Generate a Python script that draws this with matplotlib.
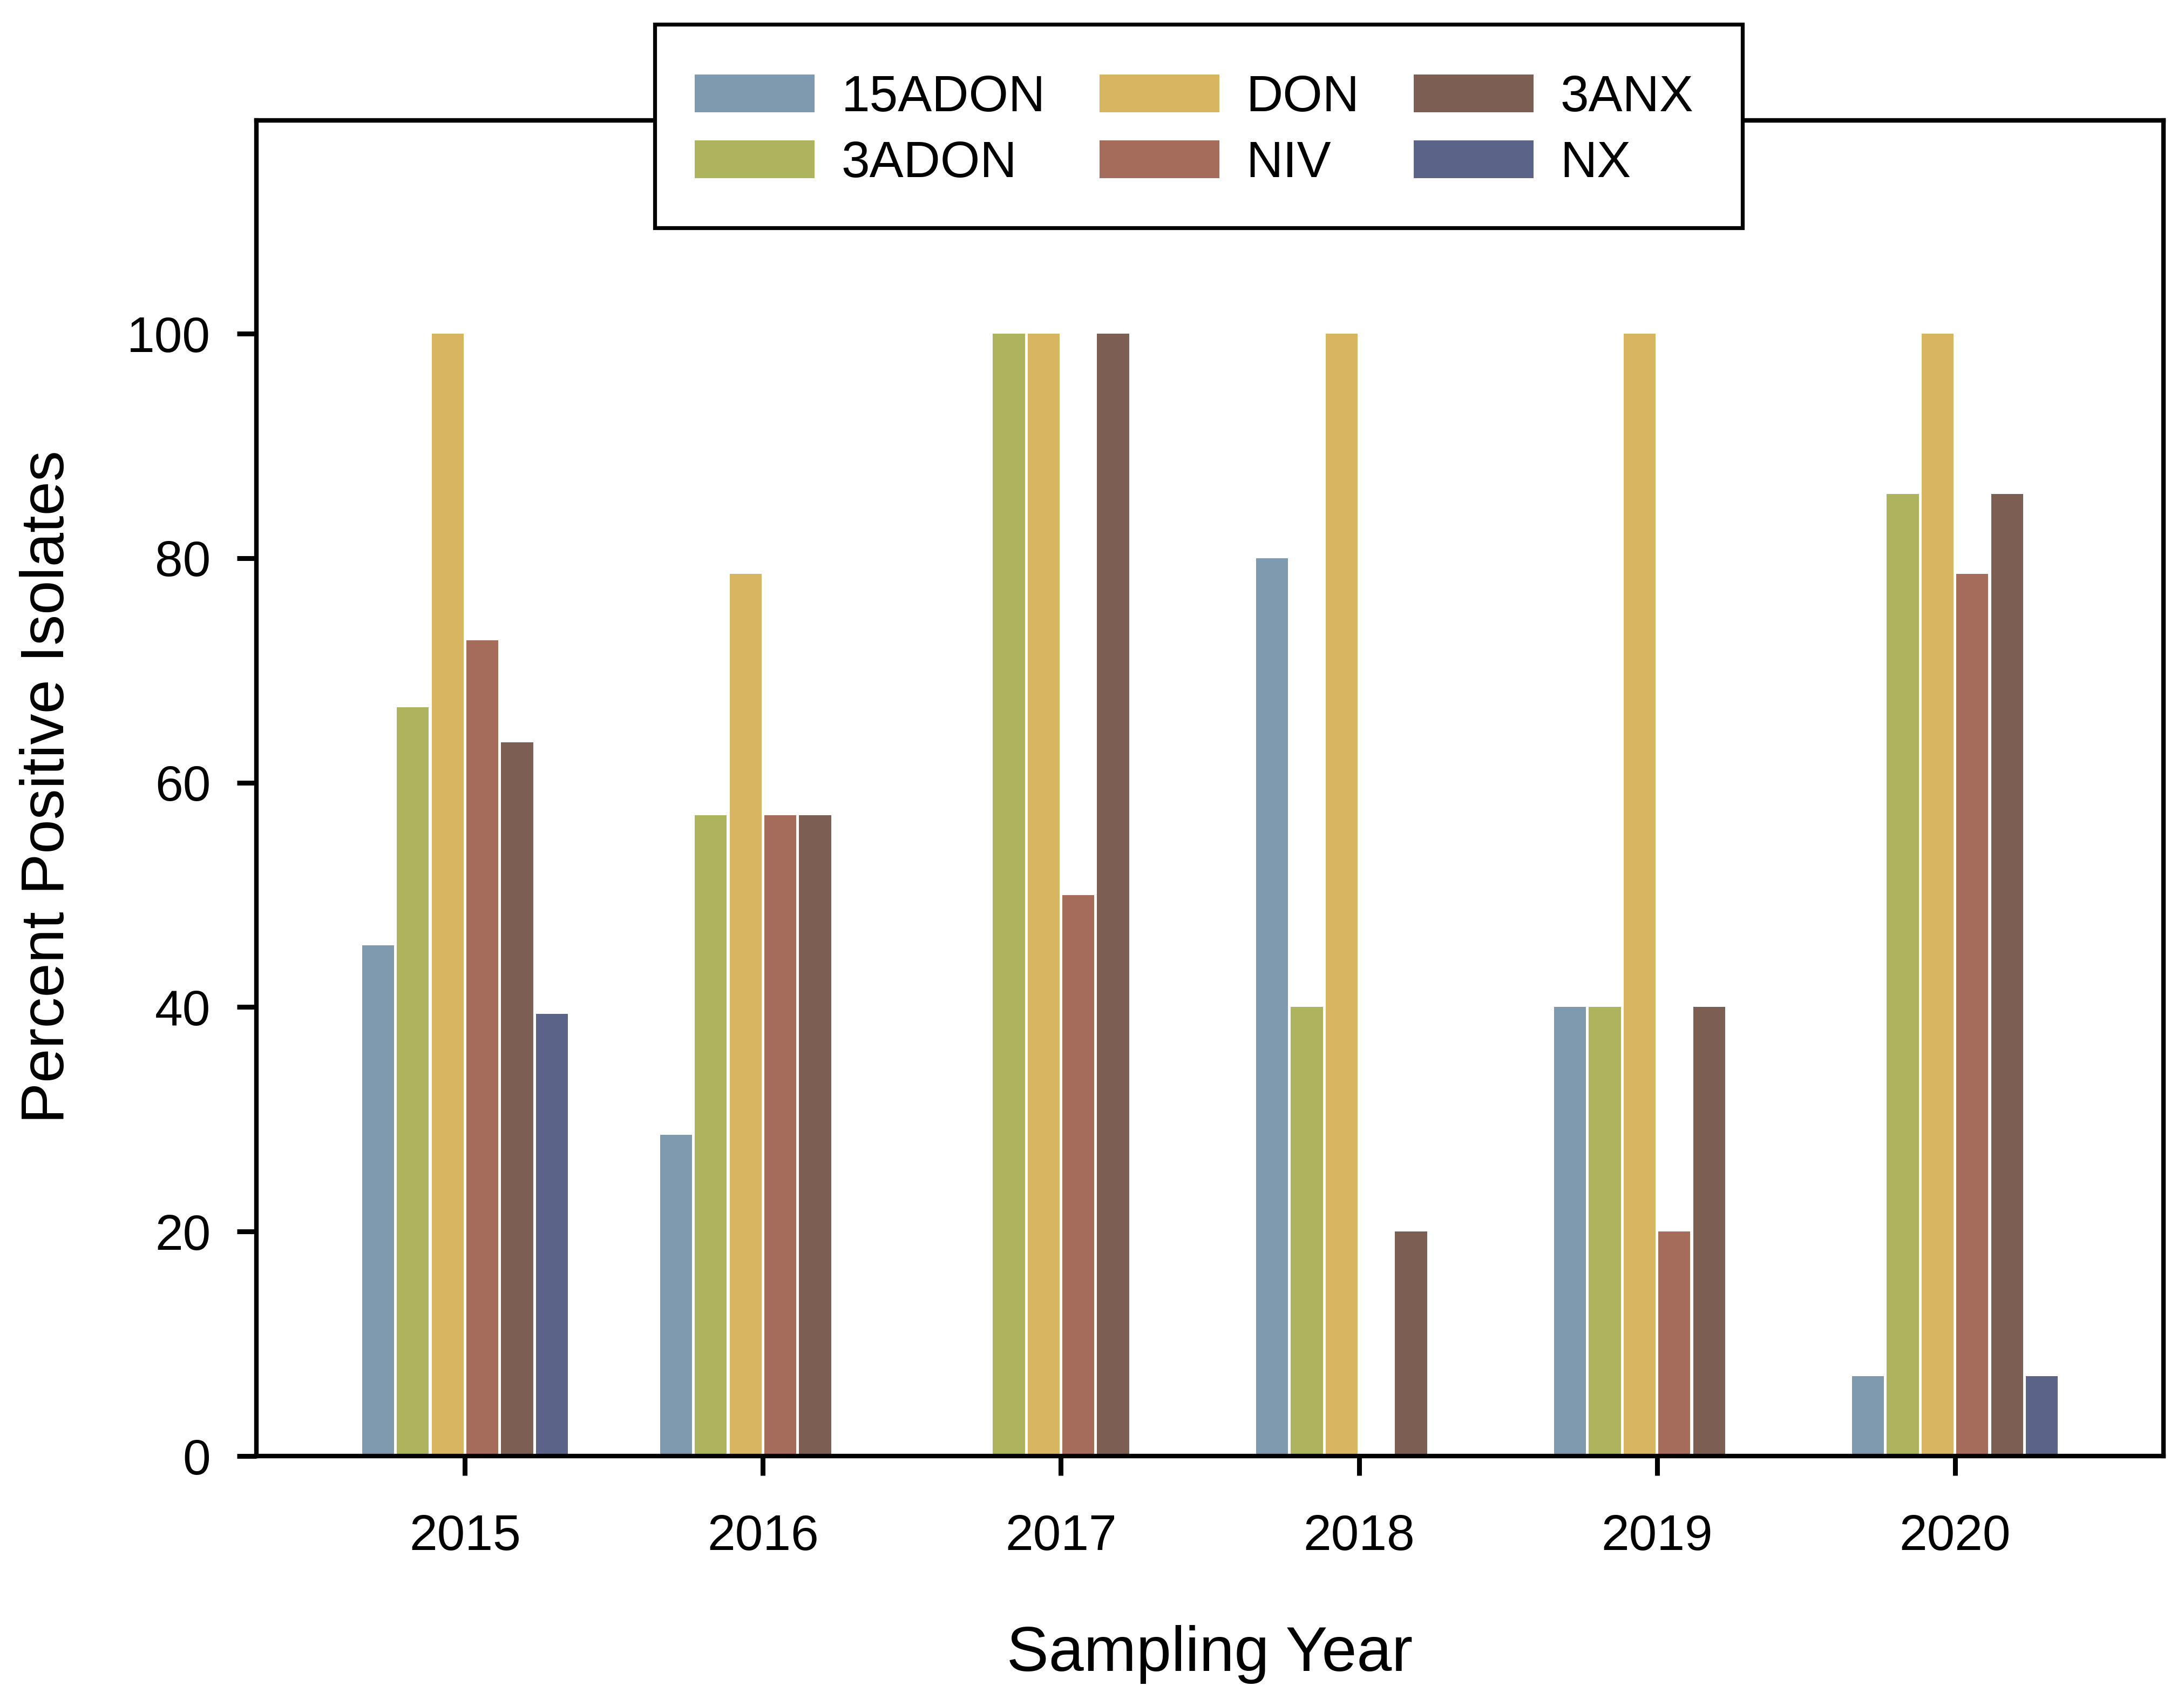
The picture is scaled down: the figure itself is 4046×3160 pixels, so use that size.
import matplotlib
matplotlib.use("Agg")
import matplotlib.pyplot as plt
from matplotlib.patches import Rectangle
import numpy as np

plt.rcParams['font.family'] = ['Liberation Sans', 'DejaVu Sans']

years = ["2015", "2016", "2017", "2018", "2019", "2020"]
series_names = ["15ADON", "3ADON", "DON", "NIV", "3ANX", "NX"]
adon15 = [45.5, 28.6, 0.0, 80.0, 40.0, 7.1]
adon3 = [66.7, 57.1, 100.0, 40.0, 40.0, 85.7]
don = [100.0, 78.6, 100.0, 100.0, 100.0, 100.0]
niv = [72.7, 57.1, 50.0, 0.0, 20.0, 78.6]
anx3 = [63.6, 57.1, 100.0, 20.0, 40.0, 85.7]
nx = [39.4, 0.0, 0.0, 0.0, 0.0, 7.1]
colors = ["#7F99AE", "#AEB45E", "#D8B661", "#A66C5B", "#7C5E52", "#5C6388"]

series = [adon15, adon3, don, niv, anx3, nx]

W, H = 4046, 3160
fig = plt.figure(figsize=(W / 100, H / 100), dpi=100)
ax = fig.add_axes([475/W, 1 - 2697/H, (4008-475)/W, (2697-223)/H])
ax.set_zorder(1)

x = np.arange(len(years))
pitch = 0.1167
barw = 0.1075
for i, (name, vals, c) in enumerate(zip(series_names, series, colors)):
    ax.bar(x + (i - 2.5) * pitch, vals, width=barw, color=c, label=name,
           edgecolor='none', linewidth=0)

ax.set_xlim(-0.7, 5.7)
ax.set_ylim(0, 119)
ax.set_xticks(x)
ax.set_xticklabels(years)
ax.set_yticks([0, 20, 40, 60, 80, 100])

for s in ax.spines.values():
    s.set_linewidth(6.0)
    s.set_color('black')

ax.tick_params(axis='both', direction='out', length=26, width=6.5, color='black',
               labelsize=67)
ax.tick_params(axis='y', pad=35)
ax.tick_params(axis='x', pad=51)

ax.set_xlabel("Sampling Year", fontsize=84)
ax.set_ylabel("Percent Positive Isolates", fontsize=82)
ax.xaxis.set_label_coords(0.5, -0.1265)
ax.yaxis.set_label_coords(-0.0943, 0.5008)

leg = fig.legend(loc='upper center', bbox_to_anchor=(2212/W, 1 - 55/H),
                 ncol=3, fontsize=68, frameon=False,
                 handlelength=2.35, handleheight=0.76, handletextpad=0.52,
                 columnspacing=1.065, labelspacing=0.35, borderpad=0.87,
                 borderaxespad=0)
leg.set_zorder(10)

frame = Rectangle((1213/W, 1 - 422/H), (3228-1213)/W, (422-45)/H,
                  transform=fig.transFigure, facecolor='white', edgecolor='black',
                  linewidth=5.2, zorder=5)
fig.add_artist(frame)

fig.savefig("out.png", dpi=100, facecolor='white')
